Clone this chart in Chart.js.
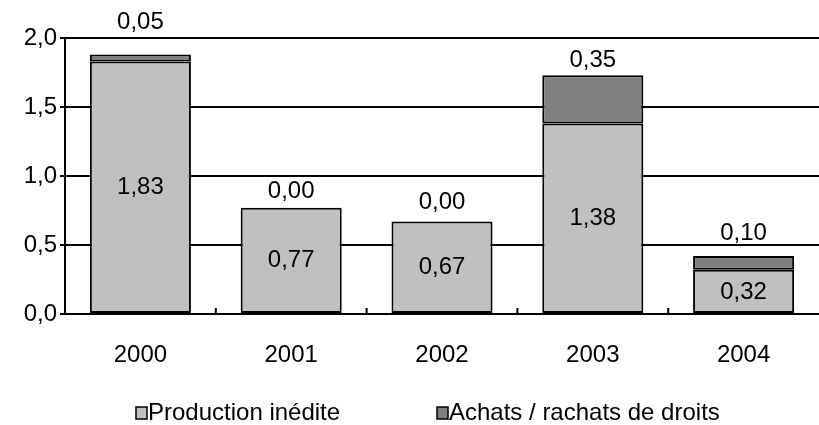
<!DOCTYPE html>
<html>
<head>
<meta charset="utf-8">
<script src="https://cdn.jsdelivr.net/npm/chart.js@4/dist/chart.umd.min.js"></script>
<style>
html,body{margin:0;padding:0;background:#fff;}
#c{display:block;}
</style>
</head>
<body>
<canvas id="c" width="819" height="425"></canvas>
<script>
const categories = ['2000', '2001', '2002', '2003', '2004'];
const seriesNames = ['Production inédite', 'Achats / rachats de droits'];
const production = [1.83, 0.77, 0.67, 1.38, 0.32];
const achats = [0.05, 0.00, 0.00, 0.35, 0.10];
const yTicks = [0, 0.5, 1.0, 1.5, 2.0];

const FONT = '"Liberation Sans", Arial, sans-serif';
const FS = 24;
const fmt2 = v => v.toFixed(2).replace('.', ',');
const fmt1 = v => v.toFixed(1).replace('.', ',');

const labelPlugin = {
  id: 'labelsAndLegend',
  afterDatasetsDraw(chart, args, opts) {
    const ctx = chart.ctx;
    const y = chart.scales.y;
    const x = chart.scales.x;
    ctx.save();
    ctx.fillStyle = '#000';
    ctx.font = FS + 'px ' + FONT;
    ctx.textAlign = 'center';
    ctx.textBaseline = 'middle';
    const m0 = chart.getDatasetMeta(0);
    m0.data.forEach((bar, i) => {
      const cy = (y.getPixelForValue(0) + y.getPixelForValue(production[i])) / 2;
      ctx.fillText(fmt2(production[i]), bar.x, cy);
    });
    const m1 = chart.getDatasetMeta(1);
    m1.data.forEach((bar, i) => {
      const top = y.getPixelForValue(production[i] + achats[i]);
      ctx.fillText(fmt2(achats[i]), bar.x, top - opts.lift[i]);
    });
    ctx.strokeStyle = '#000';
    ctx.lineWidth = 2;
    const base = y.getPixelForValue(0);
    for (let i = 0; i < categories.length - 1; i++) {
      const bx = (x.getPixelForTick(i) + x.getPixelForTick(i + 1)) / 2;
      ctx.beginPath();
      ctx.moveTo(bx, base);
      ctx.lineTo(bx, base - 6);
      ctx.stroke();
    }
    const colors = [chart.data.datasets[0].backgroundColor, chart.data.datasets[1].backgroundColor];
    ctx.textAlign = 'left';
    seriesNames.forEach((name, i) => {
      const lx = opts.legendX[i];
      const ly = opts.legendY;
      ctx.fillStyle = colors[i];
      ctx.fillRect(lx, ly - 6, 11, 12);
      ctx.lineWidth = 1.5;
      ctx.strokeStyle = '#000';
      ctx.strokeRect(lx, ly - 6, 11, 12);
      ctx.fillStyle = '#000';
      ctx.fillText(name, lx + 12, ly);
    });
    ctx.restore();
  }
};

new Chart(document.getElementById('c'), {
  type: 'bar',
  data: {
    labels: categories,
    datasets: [
      { label: seriesNames[0], data: production, backgroundColor: '#c0c0c0', borderColor: '#000', borderWidth: 2, borderSkipped: false },
      { label: seriesNames[1], data: achats, backgroundColor: '#808080', borderColor: '#000', borderWidth: 2, borderSkipped: false }
    ]
  },
  options: {
    responsive: false,
    animation: false,
    layout: { padding: { left: 0, right: 0, top: 38, bottom: 0 } },
    datasets: { bar: { categoryPercentage: 1.0, barPercentage: 0.67 } },
    plugins: {
      legend: { display: false },
      tooltip: { enabled: false },
      labelsAndLegend: { lift: [32, 16, 19, 15, 23], legendX: [136, 437], legendY: 413 }
    },
    scales: {
      x: {
        stacked: true,
        grid: { display: false },
        border: { display: true, color: '#000', width: 2 },
        ticks: { color: '#000', font: { family: FONT, size: FS }, padding: 19, maxRotation: 0 },
        afterFit(s) { s.height = 111; }
      },
      y: {
        stacked: true,
        min: 0, max: 2,
        afterBuildTicks(s) { s.ticks = yTicks.map(v => ({ value: v })); },
        grid: { color: '#000', lineWidth: 2, tickLength: 5, drawTicks: true },
        border: { display: true, color: '#000', width: 2 },
        ticks: { color: '#000', font: { family: FONT, size: FS }, padding: 3, callback: v => fmt1(v) },
        afterFit(s) { s.width = 65; }
      }
    }
  },
  plugins: [labelPlugin]
});
</script>
</body>
</html>
